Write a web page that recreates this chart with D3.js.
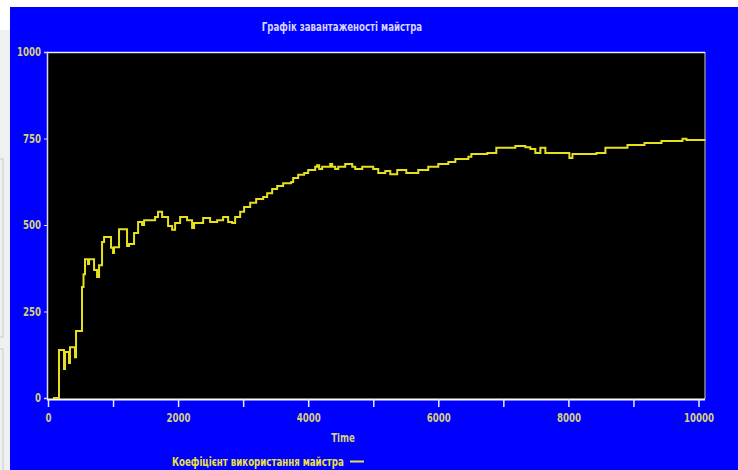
<!DOCTYPE html>
<html><head><meta charset="utf-8">
<script src="https://cdn.jsdelivr.net/npm/d3@7"></script>
<style>
html,body{margin:0;padding:0;background:#fff;overflow:hidden;}
svg{display:block;}
text{font-family:"DejaVu Sans Condensed","Liberation Sans Narrow",sans-serif;font-weight:bold;}
</style></head>
<body><svg id="c" width="738" height="470"></svg>
<script>
const title = "Графік завантаженості майстра";
const xLabel = "Time";
const seriesName = "Коефіцієнт використання майстра";
const yTicks = [0, 250, 500, 750, 1000];
const xTicks = [0, 1000, 2000, 3000, 4000, 5000, 6000, 7000, 8000, 9000, 10000];
const xTickLabels = ["0", "", "2000", "", "4000", "", "6000", "", "8000", "", "10000"];
const times = [77,169,246,262,323,338,415,431,523,546,569,615,631,708,754,785,831,862,969,1000,1015,1092,1215,1246,1323,1385,1446,1477,1538,1646,1692,1754,1846,1908,1954,2031,2138,2215,2246,2385,2492,2600,2692,2769,2831,2877,2954,3015,3108,3200,3308,3369,3446,3523,3615,3738,3769,3846,3938,4000,4108,4138,4169,4215,4338,4369,4415,4462,4569,4677,4723,4831,5000,5077,5185,5262,5369,5508,5692,5846,6000,6154,6262,6462,6508,6754,6892,7185,7338,7415,7492,7569,7646,8015,8062,8431,8569,8908,9169,9431,9754,9815,10108];
const values = [0,139,84,133,101,147,118,194,321,358,401,387,401,370,350,384,451,465,434,419,436,488,439,445,477,509,500,514,514,523,538,523,497,486,506,523,514,491,506,520,509,514,523,509,506,523,538,552,564,575,581,592,604,613,621,624,636,645,650,659,668,673,662,668,676,668,662,668,676,668,662,668,662,650,656,647,659,650,659,668,676,682,691,697,705,708,723,728,725,720,708,723,708,694,705,708,723,731,737,743,749,746,746];

const SX = 0.8;
const svg = d3.select("#c");
// screenshot surroundings
svg.append("rect").attr("x",0).attr("y",0).attr("width",738).attr("height",470).attr("fill","#ffffff");
svg.append("rect").attr("x",0).attr("y",30).attr("width",10).attr("height",440).attr("fill","#f0f0f0");
svg.append("rect").attr("x",-5).attr("y",159).attr("width",8).attr("height",178).attr("fill","none").attr("stroke","#c8c8c8");
svg.append("rect").attr("x",-5).attr("y",349).attr("width",8).attr("height",140).attr("fill","none").attr("stroke","#c8c8c8");
svg.append("rect").attr("x",10).attr("y",7).attr("width",728).attr("height",463).attr("fill","#0000ff");

const x = d3.scaleLinear().domain([0, 10100]).range([48, 705]);
const y = d3.scaleLinear().domain([0, 1000]).range([398, 52]);

svg.append("rect").attr("x",47).attr("y",52).attr("width",658).attr("height",347).attr("fill","#000");
svg.append("line").attr("x1",705).attr("x2",705).attr("y1",52).attr("y2",399).attr("stroke","#8a8a8a").attr("stroke-width",1.5);
svg.append("line").attr("x1",47).attr("x2",705).attr("y1",52.5).attr("y2",52.5).attr("stroke","#e8e8ff").attr("stroke-width",1.5);

const yAxis = d3.axisLeft(y).tickValues(yTicks).tickSize(3).tickPadding(3).tickFormat(d3.format("d"));
const gy = svg.append("g").attr("transform","translate(47,0)").call(yAxis);
gy.select(".domain").attr("stroke","#d8d8ff").attr("stroke-width",1.5);
gy.selectAll(".tick line").attr("stroke","#d8d8ff");
gy.selectAll(".tick text").attr("fill","#d6d07a").attr("font-size",12).attr("x",-6/SX).attr("transform",`scale(${SX},1)`);

const xAxis = d3.axisBottom(x).tickValues(xTicks).tickSize(8).tickPadding(6).tickFormat((d,i)=>xTickLabels[i]);
const gx = svg.append("g").attr("transform","translate(0,399)").call(xAxis);
gx.select(".domain").attr("stroke","#ffffff").attr("stroke-width",2).attr("d","M47,0.5H705");
gx.selectAll(".tick line").attr("stroke","#e8e8ff").attr("stroke-width",1.5);
gx.selectAll(".tick text").attr("fill","#d6d07a").attr("font-size",12).attr("transform",`scale(${SX},1)`);

const data = times.map((t,i)=>[t, values[i]]);
const line = d3.line().x(d=>x(d[0])).y(d=>y(d[1])).curve(d3.curveStepAfter);
svg.append("path").datum(data).attr("d",line).attr("fill","none").attr("stroke","#e6e01e").attr("stroke-width",2);

function label(txt, cx, cy, anchor, fill){
  svg.append("text").attr("transform",`translate(${cx},${cy}) scale(${SX},1)`)
    .attr("text-anchor",anchor).attr("fill",fill).attr("font-size",12).text(txt);
}
label(title, 342, 31, "middle", "#d4d4ff");
label(xLabel, 343, 442, "middle", "#d6d07a");
label(seriesName, 172, 466, "start", "#e8e040");
svg.append("line").attr("x1",350).attr("x2",364).attr("y1",461.5).attr("y2",461.5).attr("stroke","#e8e040").attr("stroke-width",2);
</script></body></html>
